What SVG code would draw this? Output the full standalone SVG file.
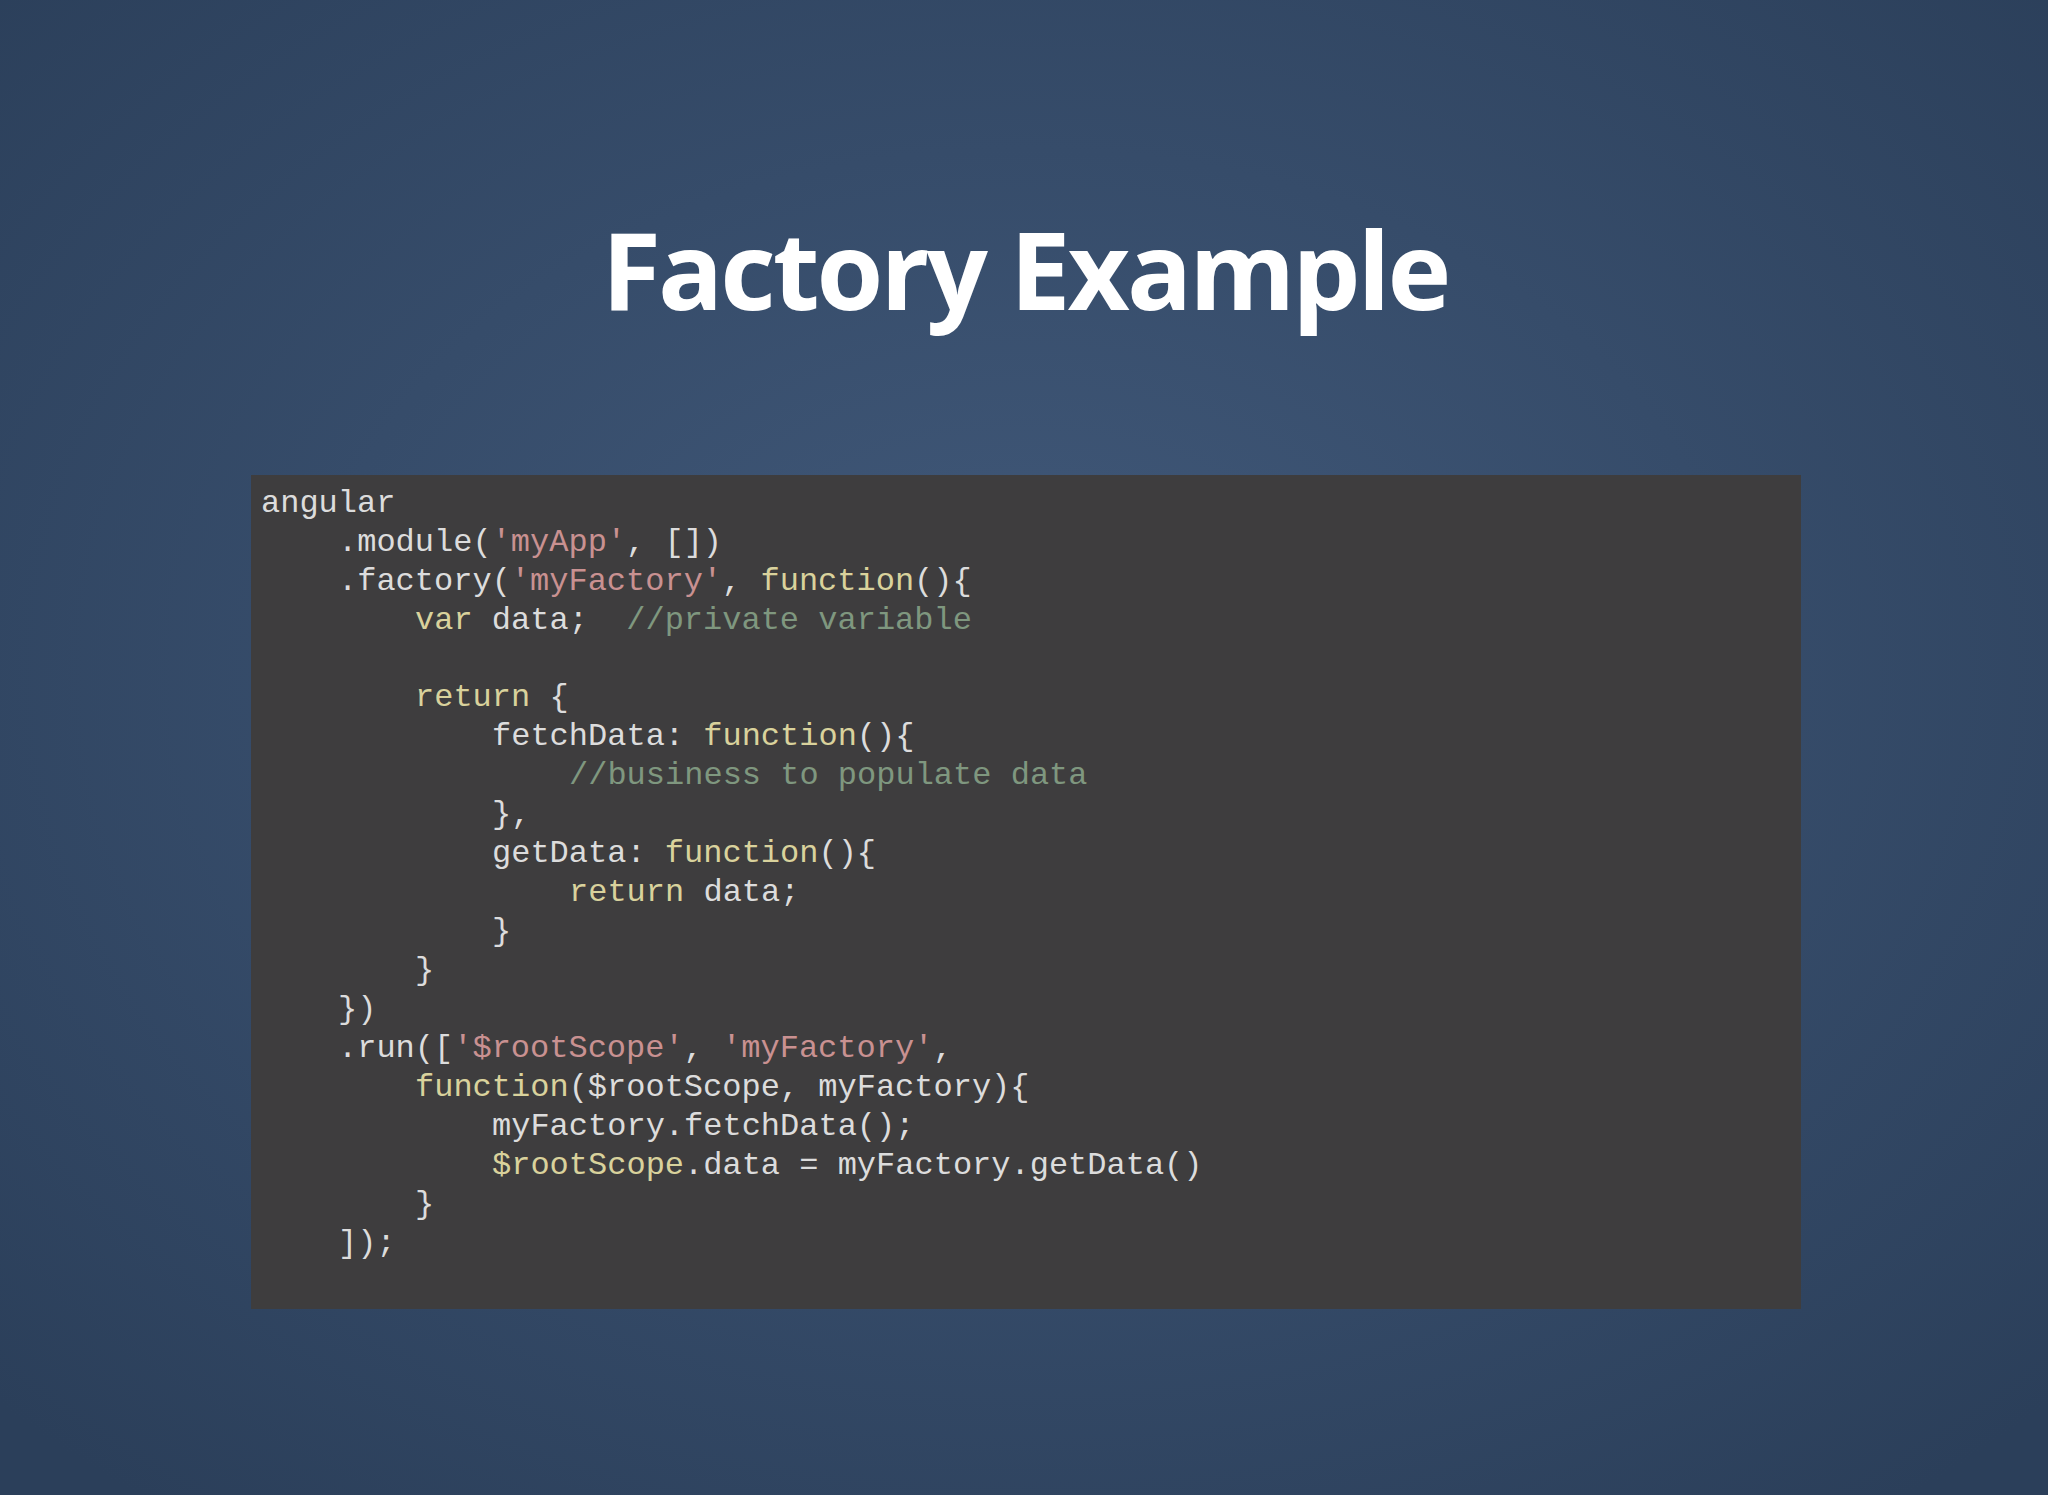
<svg xmlns="http://www.w3.org/2000/svg" width="2048" height="1495" viewBox="0 0 2048 1495">
<defs>
<radialGradient id="bg" cx="50%" cy="45%" r="70%">
<stop offset="0" stop-color="#41597a"/>
<stop offset="1" stop-color="#2b3f5a"/>
</radialGradient>
<style>
.c{font-family:"Liberation Mono",monospace;font-size:32px;fill:#dcdcdc;white-space:pre}
.s{fill:#c99191}
.k{fill:#d9d29c}
.m{fill:#7f977f}
</style>
</defs>
<rect width="2048" height="1495" fill="url(#bg)"/>
<g id="title"><text x="1025" y="310" text-anchor="middle" font-family="Open Sans, sans-serif" font-weight="bold" font-size="108" letter-spacing="-3" fill="#ffffff">Factory Example</text></g>
<g id="code">
<rect x="251" y="475" width="1550" height="834" fill="#3e3d3e"/>
<g class="c">
<text x="261" y="512">angular</text>
<text x="338" y="551">.module(<tspan class="s">'myApp'</tspan>, [])</text>
<text x="338" y="590">.factory(<tspan class="s">'myFactory'</tspan>, <tspan class="k">function</tspan>(){</text>
<text x="415" y="629" xml:space="preserve"><tspan class="k">var</tspan> data;  <tspan class="m">//private variable</tspan></text>
<text x="415" y="706"><tspan class="k">return</tspan> {</text>
<text x="492" y="745">fetchData: <tspan class="k">function</tspan>(){</text>
<text x="569" y="784"><tspan class="m">//business to populate data</tspan></text>
<text x="492" y="823">},</text>
<text x="492" y="862">getData: <tspan class="k">function</tspan>(){</text>
<text x="569" y="901"><tspan class="k">return</tspan> data;</text>
<text x="492" y="940">}</text>
<text x="415" y="979">}</text>
<text x="338" y="1018">})</text>
<text x="338" y="1057">.run([<tspan class="s">'$rootScope'</tspan>, <tspan class="s">'myFactory'</tspan>,</text>
<text x="415" y="1096"><tspan class="k">function</tspan>($rootScope, myFactory){</text>
<text x="492" y="1135">myFactory.fetchData();</text>
<text x="492" y="1174"><tspan class="k">$rootScope</tspan>.data = myFactory.getData()</text>
<text x="415" y="1213">}</text>
<text x="338" y="1252">]);</text>
</g>
</g>
</svg>
